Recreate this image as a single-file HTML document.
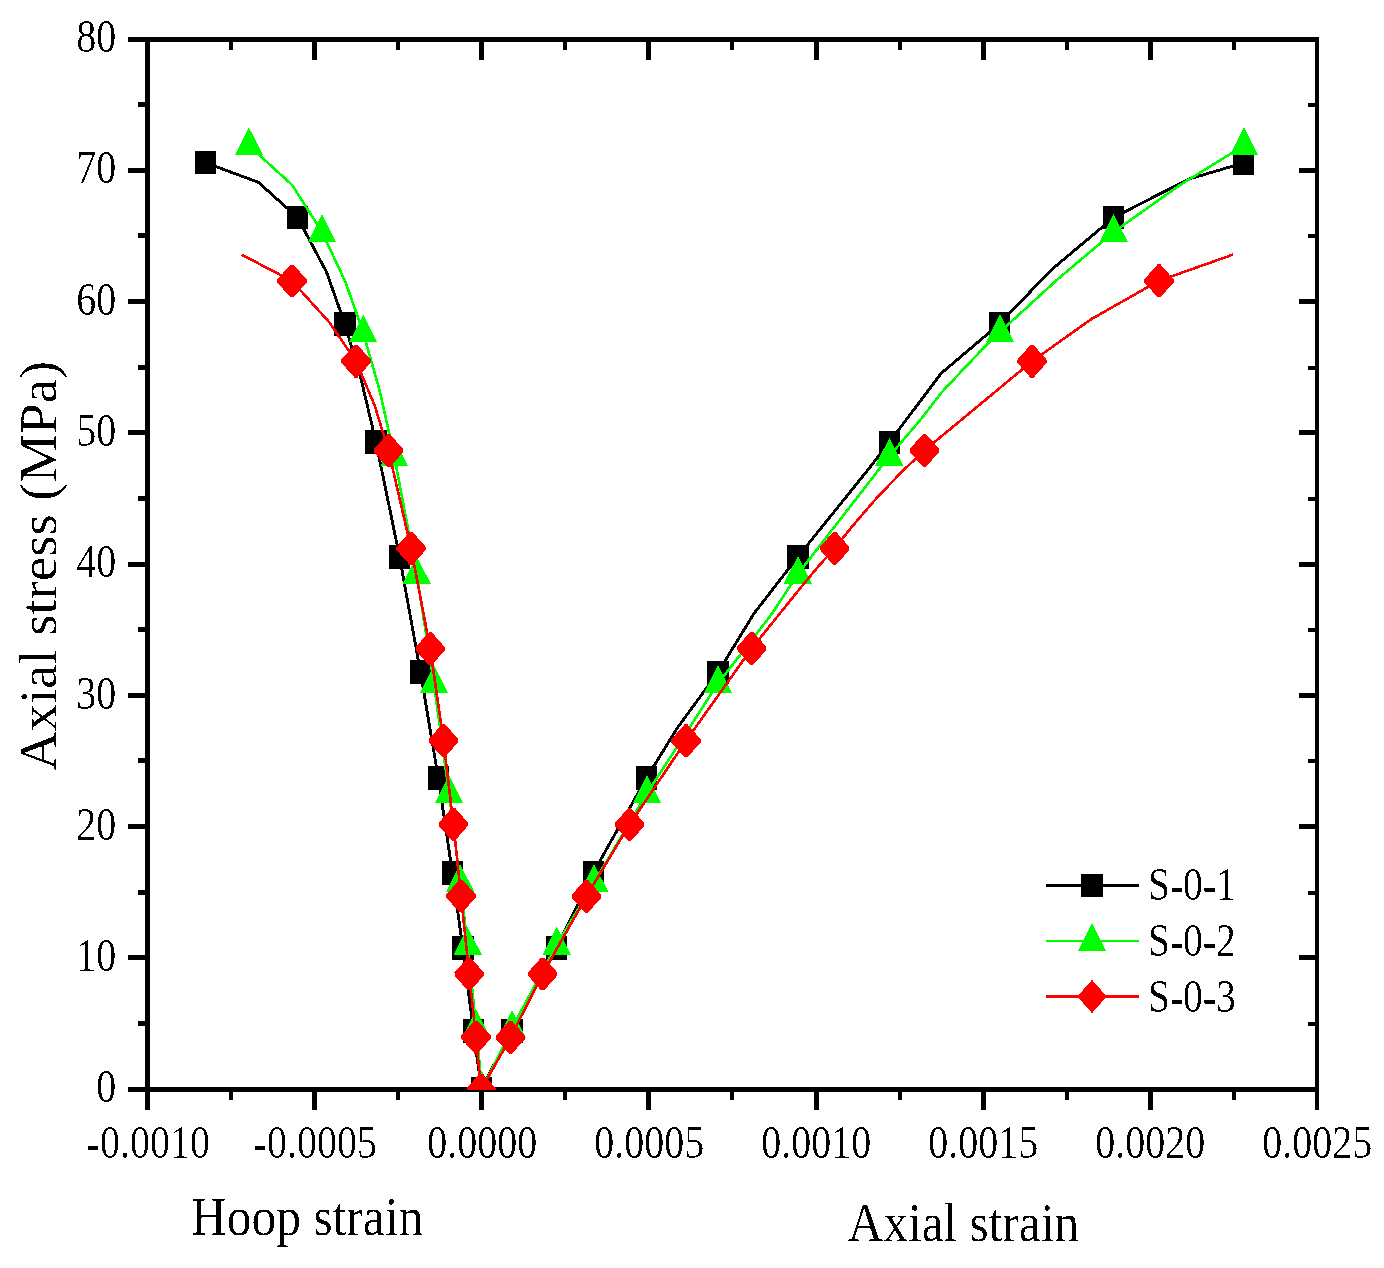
<!DOCTYPE html>
<html><head><meta charset="utf-8"><title>Axial stress vs strain</title>
<style>
html,body{margin:0;padding:0;background:#fff;}
body{width:1384px;height:1268px;overflow:hidden;}
svg{display:block;will-change:transform;}
text{font-family:"Liberation Serif",serif;fill:#000;}
</style></head><body>
<svg width="1384" height="1268" viewBox="0 0 1384 1268">
<rect width="1384" height="1268" fill="#fff"/>
<defs><filter id="th" x="-5%" y="-5%" width="110%" height="110%" color-interpolation-filters="sRGB"><feComponentTransfer><feFuncA type="discrete" tableValues="0 0 0 1 1"/></feComponentTransfer></filter></defs>
<defs><clipPath id="pc"><rect x="147.5" y="39.5" width="1170.0" height="1050.4"/></clipPath></defs>
<g fill="#000" shape-rendering="crispEdges">
<rect x="128" y="37" width="1191" height="5"/>
<rect x="128" y="1087" width="1191" height="5"/>
<rect x="145" y="37" width="5" height="1073"/>
<rect x="1315" y="37" width="4" height="1073"/>
<rect x="138" y="1021" width="7" height="5"/>
<rect x="1308" y="1022" width="7" height="4"/>
<rect x="128" y="955" width="17" height="5"/>
<rect x="1299" y="955" width="16" height="5"/>
<rect x="138" y="890" width="7" height="5"/>
<rect x="1308" y="891" width="7" height="4"/>
<rect x="128" y="824" width="17" height="5"/>
<rect x="1299" y="824" width="16" height="5"/>
<rect x="138" y="758" width="7" height="5"/>
<rect x="1308" y="759" width="7" height="4"/>
<rect x="128" y="693" width="17" height="5"/>
<rect x="1299" y="693" width="16" height="5"/>
<rect x="138" y="627" width="7" height="5"/>
<rect x="1308" y="628" width="7" height="4"/>
<rect x="128" y="562" width="17" height="5"/>
<rect x="1299" y="562" width="16" height="5"/>
<rect x="138" y="496" width="7" height="5"/>
<rect x="1308" y="497" width="7" height="4"/>
<rect x="128" y="430" width="17" height="5"/>
<rect x="1299" y="430" width="16" height="5"/>
<rect x="138" y="365" width="7" height="5"/>
<rect x="1308" y="366" width="7" height="4"/>
<rect x="128" y="299" width="17" height="5"/>
<rect x="1299" y="299" width="16" height="5"/>
<rect x="138" y="233" width="7" height="5"/>
<rect x="1308" y="234" width="7" height="4"/>
<rect x="128" y="168" width="17" height="5"/>
<rect x="1299" y="168" width="16" height="5"/>
<rect x="138" y="102" width="7" height="5"/>
<rect x="1308" y="103" width="7" height="4"/>
<rect x="229" y="1092" width="4" height="8"/>
<rect x="229" y="42" width="4" height="8"/>
<rect x="312" y="1092" width="5" height="18"/>
<rect x="312" y="42" width="5" height="18"/>
<rect x="396" y="1092" width="4" height="8"/>
<rect x="396" y="42" width="4" height="8"/>
<rect x="479" y="1092" width="5" height="18"/>
<rect x="479" y="42" width="5" height="18"/>
<rect x="563" y="1092" width="4" height="8"/>
<rect x="563" y="42" width="4" height="8"/>
<rect x="646" y="1092" width="5" height="18"/>
<rect x="646" y="42" width="5" height="18"/>
<rect x="730" y="1092" width="4" height="8"/>
<rect x="730" y="42" width="4" height="8"/>
<rect x="814" y="1092" width="5" height="18"/>
<rect x="814" y="42" width="5" height="18"/>
<rect x="898" y="1092" width="4" height="8"/>
<rect x="898" y="42" width="4" height="8"/>
<rect x="981" y="1092" width="5" height="18"/>
<rect x="981" y="42" width="5" height="18"/>
<rect x="1065" y="1092" width="4" height="8"/>
<rect x="1065" y="42" width="4" height="8"/>
<rect x="1148" y="1092" width="5" height="18"/>
<rect x="1148" y="42" width="5" height="18"/>
<rect x="1232" y="1092" width="4" height="8"/>
<rect x="1232" y="42" width="4" height="8"/>
</g>
<g clip-path="url(#pc)">
<g fill="#000000" stroke="none" shape-rendering="crispEdges">
<polyline points="205.4,162.7 258.4,182.3 297.5,217.4 326.5,272.0 344.8,323.8 361.5,381.0 375.9,441.8 399.6,556.9 420.4,671.8 438.3,778.0 452.4,872.9 462.8,947.9 473.5,1031.0 481.3,1088.5 512.0,1031.0 556.4,947.9 593.4,872.6 646.5,778.0 677.3,728.0 718.1,672.2 754.0,613.5 797.8,556.9 867.0,471.0 889.4,442.2 941.0,373.5 999.6,323.8 1050.9,270.2 1113.6,217.6 1188.6,179.1 1243.5,163.0" fill="none" stroke="#000000" stroke-width="2.9" stroke-linejoin="round"/>
<rect x="194.6" y="151.0" width="21.6" height="23.4"/>
<rect x="286.7" y="205.7" width="21.6" height="23.4"/>
<rect x="334.0" y="312.1" width="21.6" height="23.4"/>
<rect x="365.1" y="430.1" width="21.6" height="23.4"/>
<rect x="388.8" y="545.2" width="21.6" height="23.4"/>
<rect x="409.6" y="660.1" width="21.6" height="23.4"/>
<rect x="427.5" y="766.3" width="21.6" height="23.4"/>
<rect x="441.6" y="861.2" width="21.6" height="23.4"/>
<rect x="452.0" y="936.2" width="21.6" height="23.4"/>
<rect x="462.7" y="1019.3" width="21.6" height="23.4"/>
<rect x="470.5" y="1076.8" width="21.6" height="23.4"/>
<rect x="501.2" y="1019.3" width="21.6" height="23.4"/>
<rect x="545.6" y="936.2" width="21.6" height="23.4"/>
<rect x="582.6" y="860.9" width="21.6" height="23.4"/>
<rect x="635.7" y="766.3" width="21.6" height="23.4"/>
<rect x="707.3" y="660.5" width="21.6" height="23.4"/>
<rect x="787.0" y="545.2" width="21.6" height="23.4"/>
<rect x="878.6" y="430.5" width="21.6" height="23.4"/>
<rect x="988.8" y="312.1" width="21.6" height="23.4"/>
<rect x="1102.8" y="205.9" width="21.6" height="23.4"/>
<rect x="1232.7" y="151.3" width="21.6" height="23.4"/>
</g>
<g fill="#00ff00" stroke="none" shape-rendering="crispEdges">
<polyline points="248.9,145.5 292.4,185.3 322.0,232.0 345.5,282.0 363.2,332.5 380.0,392.0 394.3,456.5 416.6,574.0 433.9,683.3 449.1,793.4 460.2,882.2 467.6,945.0 476.2,1028.0 482.0,1089.5 512.0,1028.0 556.7,945.0 594.2,882.2 647.0,793.4 718.1,683.3 755.4,635.2 772.0,613.6 797.9,574.0 889.4,456.0 920.0,420.3 942.0,392.0 964.2,368.4 986.2,345.2 1000.0,332.0 1057.4,279.5 1113.6,232.0 1180.0,185.0 1244.0,145.5" fill="none" stroke="#00ff00" stroke-width="2.6" stroke-linejoin="round"/>
<polygon points="248.9,127.3 263.0,155.3 234.8,155.3"/>
<polygon points="322.0,213.8 336.1,241.8 307.9,241.8"/>
<polygon points="363.2,314.3 377.3,342.3 349.1,342.3"/>
<polygon points="394.3,438.3 408.4,466.3 380.2,466.3"/>
<polygon points="416.6,555.8 430.7,583.8 402.5,583.8"/>
<polygon points="433.9,665.1 448.0,693.1 419.8,693.1"/>
<polygon points="449.1,775.2 463.2,803.2 435.0,803.2"/>
<polygon points="460.2,864.0 474.3,892.0 446.1,892.0"/>
<polygon points="467.6,926.8 481.7,954.8 453.5,954.8"/>
<polygon points="476.2,1009.8 490.3,1037.8 462.1,1037.8"/>
<polygon points="482.0,1071.3 496.1,1099.3 467.9,1099.3"/>
<polygon points="512.0,1009.8 526.1,1037.8 497.9,1037.8"/>
<polygon points="556.7,926.8 570.8,954.8 542.6,954.8"/>
<polygon points="594.2,864.0 608.3,892.0 580.1,892.0"/>
<polygon points="647.0,775.2 661.1,803.2 632.9,803.2"/>
<polygon points="718.1,665.1 732.2,693.1 704.0,693.1"/>
<polygon points="797.9,555.8 812.0,583.8 783.8,583.8"/>
<polygon points="889.4,437.8 903.5,465.8 875.3,465.8"/>
<polygon points="1000.0,313.8 1014.1,341.8 985.9,341.8"/>
<polygon points="1113.6,213.8 1127.7,241.8 1099.5,241.8"/>
<polygon points="1244.0,127.3 1258.1,155.3 1229.9,155.3"/>
</g>
<g fill="#ff0000" stroke="none" shape-rendering="crispEdges">
<polyline points="241.5,254.6 292.0,281.0 329.5,322.5 356.0,361.2 374.5,405.0 388.6,450.7 411.1,548.4 430.2,648.7 443.5,740.6 453.4,824.2 461.0,896.0 469.2,974.0 476.0,1037.2 481.2,1089.9 510.5,1037.3 542.6,974.0 586.5,896.3 629.6,824.5 686.0,740.8 751.7,648.4 802.6,585.3 820.0,564.5 834.7,548.4 851.5,527.2 877.2,497.4 902.8,470.8 924.5,450.4 1032.0,361.3 1091.5,319.0 1159.0,280.8 1233.0,254.6" fill="none" stroke="#ff0000" stroke-width="2.6" stroke-linejoin="round"/>
<polygon points="290.5,264.6 293.5,264.6 306.7,279.5 306.7,282.5 293.5,297.4 290.5,297.4 277.3,282.5 277.3,279.5"/>
<polygon points="354.5,344.8 357.5,344.8 370.7,359.7 370.7,362.7 357.5,377.6 354.5,377.6 341.3,362.7 341.3,359.7"/>
<polygon points="387.1,434.3 390.1,434.3 403.3,449.2 403.3,452.2 390.1,467.1 387.1,467.1 373.9,452.2 373.9,449.2"/>
<polygon points="409.6,532.0 412.6,532.0 425.8,546.9 425.8,549.9 412.6,564.8 409.6,564.8 396.4,549.9 396.4,546.9"/>
<polygon points="428.7,632.3 431.7,632.3 444.9,647.2 444.9,650.2 431.7,665.1 428.7,665.1 415.5,650.2 415.5,647.2"/>
<polygon points="442.0,724.2 445.0,724.2 458.2,739.1 458.2,742.1 445.0,757.0 442.0,757.0 428.8,742.1 428.8,739.1"/>
<polygon points="451.9,807.8 454.9,807.8 468.1,822.7 468.1,825.7 454.9,840.6 451.9,840.6 438.7,825.7 438.7,822.7"/>
<polygon points="459.5,879.6 462.5,879.6 475.7,894.5 475.7,897.5 462.5,912.4 459.5,912.4 446.3,897.5 446.3,894.5"/>
<polygon points="467.7,957.6 470.7,957.6 483.9,972.5 483.9,975.5 470.7,990.4 467.7,990.4 454.5,975.5 454.5,972.5"/>
<polygon points="474.5,1020.8 477.5,1020.8 490.7,1035.7 490.7,1038.7 477.5,1053.6 474.5,1053.6 461.3,1038.7 461.3,1035.7"/>
<polygon points="479.7,1073.5 482.7,1073.5 495.9,1088.4 495.9,1091.4 482.7,1106.3 479.7,1106.3 466.5,1091.4 466.5,1088.4"/>
<polygon points="509.0,1020.9 512.0,1020.9 525.2,1035.8 525.2,1038.8 512.0,1053.7 509.0,1053.7 495.8,1038.8 495.8,1035.8"/>
<polygon points="541.1,957.6 544.1,957.6 557.3,972.5 557.3,975.5 544.1,990.4 541.1,990.4 527.9,975.5 527.9,972.5"/>
<polygon points="585.0,879.9 588.0,879.9 601.2,894.8 601.2,897.8 588.0,912.7 585.0,912.7 571.8,897.8 571.8,894.8"/>
<polygon points="628.1,808.1 631.1,808.1 644.3,823.0 644.3,826.0 631.1,840.9 628.1,840.9 614.9,826.0 614.9,823.0"/>
<polygon points="684.5,724.4 687.5,724.4 700.7,739.3 700.7,742.3 687.5,757.2 684.5,757.2 671.3,742.3 671.3,739.3"/>
<polygon points="750.2,632.0 753.2,632.0 766.4,646.9 766.4,649.9 753.2,664.8 750.2,664.8 737.0,649.9 737.0,646.9"/>
<polygon points="833.2,532.0 836.2,532.0 849.4,546.9 849.4,549.9 836.2,564.8 833.2,564.8 820.0,549.9 820.0,546.9"/>
<polygon points="923.0,434.0 926.0,434.0 939.2,448.9 939.2,451.9 926.0,466.8 923.0,466.8 909.8,451.9 909.8,448.9"/>
<polygon points="1030.5,344.9 1033.5,344.9 1046.7,359.8 1046.7,362.8 1033.5,377.7 1030.5,377.7 1017.3,362.8 1017.3,359.8"/>
<polygon points="1157.5,264.4 1160.5,264.4 1173.7,279.3 1173.7,282.3 1160.5,297.2 1157.5,297.2 1144.3,282.3 1144.3,279.3"/>
</g>
</g>
<g filter="url(#th)">
<text transform="translate(148.3,1158.2) scale(0.86,1)" font-size="46.5" text-anchor="middle">-0.0010</text>
<text transform="translate(315.3,1158.2) scale(0.86,1)" font-size="46.5" text-anchor="middle">-0.0005</text>
<text transform="translate(482.3,1158.2) scale(0.86,1)" font-size="46.5" text-anchor="middle">0.0000</text>
<text transform="translate(649.3,1158.2) scale(0.86,1)" font-size="46.5" text-anchor="middle">0.0005</text>
<text transform="translate(816.3,1158.2) scale(0.86,1)" font-size="46.5" text-anchor="middle">0.0010</text>
<text transform="translate(983.3,1158.2) scale(0.86,1)" font-size="46.5" text-anchor="middle">0.0015</text>
<text transform="translate(1150.3,1158.2) scale(0.86,1)" font-size="46.5" text-anchor="middle">0.0020</text>
<text transform="translate(1317.3,1158.2) scale(0.86,1)" font-size="46.5" text-anchor="middle">0.0025</text>
<text transform="translate(116.2,1102.2) scale(0.86,1)" font-size="46.5" text-anchor="end">0</text>
<text transform="translate(116.2,971.0) scale(0.86,1)" font-size="46.5" text-anchor="end">10</text>
<text transform="translate(116.2,839.7) scale(0.86,1)" font-size="46.5" text-anchor="end">20</text>
<text transform="translate(116.2,708.5) scale(0.86,1)" font-size="46.5" text-anchor="end">30</text>
<text transform="translate(116.2,577.2) scale(0.86,1)" font-size="46.5" text-anchor="end">40</text>
<text transform="translate(116.2,445.9) scale(0.86,1)" font-size="46.5" text-anchor="end">50</text>
<text transform="translate(116.2,314.7) scale(0.86,1)" font-size="46.5" text-anchor="end">60</text>
<text transform="translate(116.2,183.4) scale(0.86,1)" font-size="46.5" text-anchor="end">70</text>
<text transform="translate(116.2,52.2) scale(0.86,1)" font-size="46.5" text-anchor="end">80</text>
<text transform="translate(307.1,1235.0) scale(0.901,1)" font-size="55" text-anchor="middle">Hoop strain</text>
<text transform="translate(963.4,1241.0) scale(0.897,1)" font-size="55" text-anchor="middle">Axial strain</text>
<text transform="translate(56.2,565.8) rotate(-90) scale(1,0.97)" font-size="55" text-anchor="middle" textLength="410" lengthAdjust="spacing">Axial stress (MPa)</text>
<g shape-rendering="crispEdges"><rect x="1046" y="884" width="93" height="3" fill="#000"/><rect x="1046" y="940" width="93" height="2" fill="#0f0"/><rect x="1046" y="995" width="93" height="3" fill="#f00"/></g>
<g fill="#000"><rect x="1081.2" y="873.8" width="21.6" height="23.4"/></g>
<g fill="#0f0"><polygon points="1092.0,922.8 1106.1,950.8 1077.9,950.8"/></g>
<g fill="#f00"><polygon points="1092,979.8 1106.9,996.5 1092,1013.2 1077.1,996.5"/></g>
<text transform="translate(1147.9,899.6) scale(0.85,1)" font-size="46.5" text-anchor="start">S-0-1</text>
<text transform="translate(1147.9,955.6) scale(0.85,1)" font-size="46.5" text-anchor="start">S-0-2</text>
<text transform="translate(1147.9,1011.6) scale(0.85,1)" font-size="46.5" text-anchor="start">S-0-3</text>
</g>
<g fill="#000" shape-rendering="crispEdges"><rect x="88" y="1146" width="10" height="4"/><rect x="255" y="1146" width="10" height="4"/><rect x="1172" y="888" width="10" height="4"/><rect x="1205" y="888" width="10" height="4"/><rect x="1172" y="944" width="10" height="4"/><rect x="1205" y="944" width="10" height="4"/><rect x="1172" y="1000" width="10" height="4"/><rect x="1205" y="1000" width="10" height="4"/></g>
</svg>
</body></html>
